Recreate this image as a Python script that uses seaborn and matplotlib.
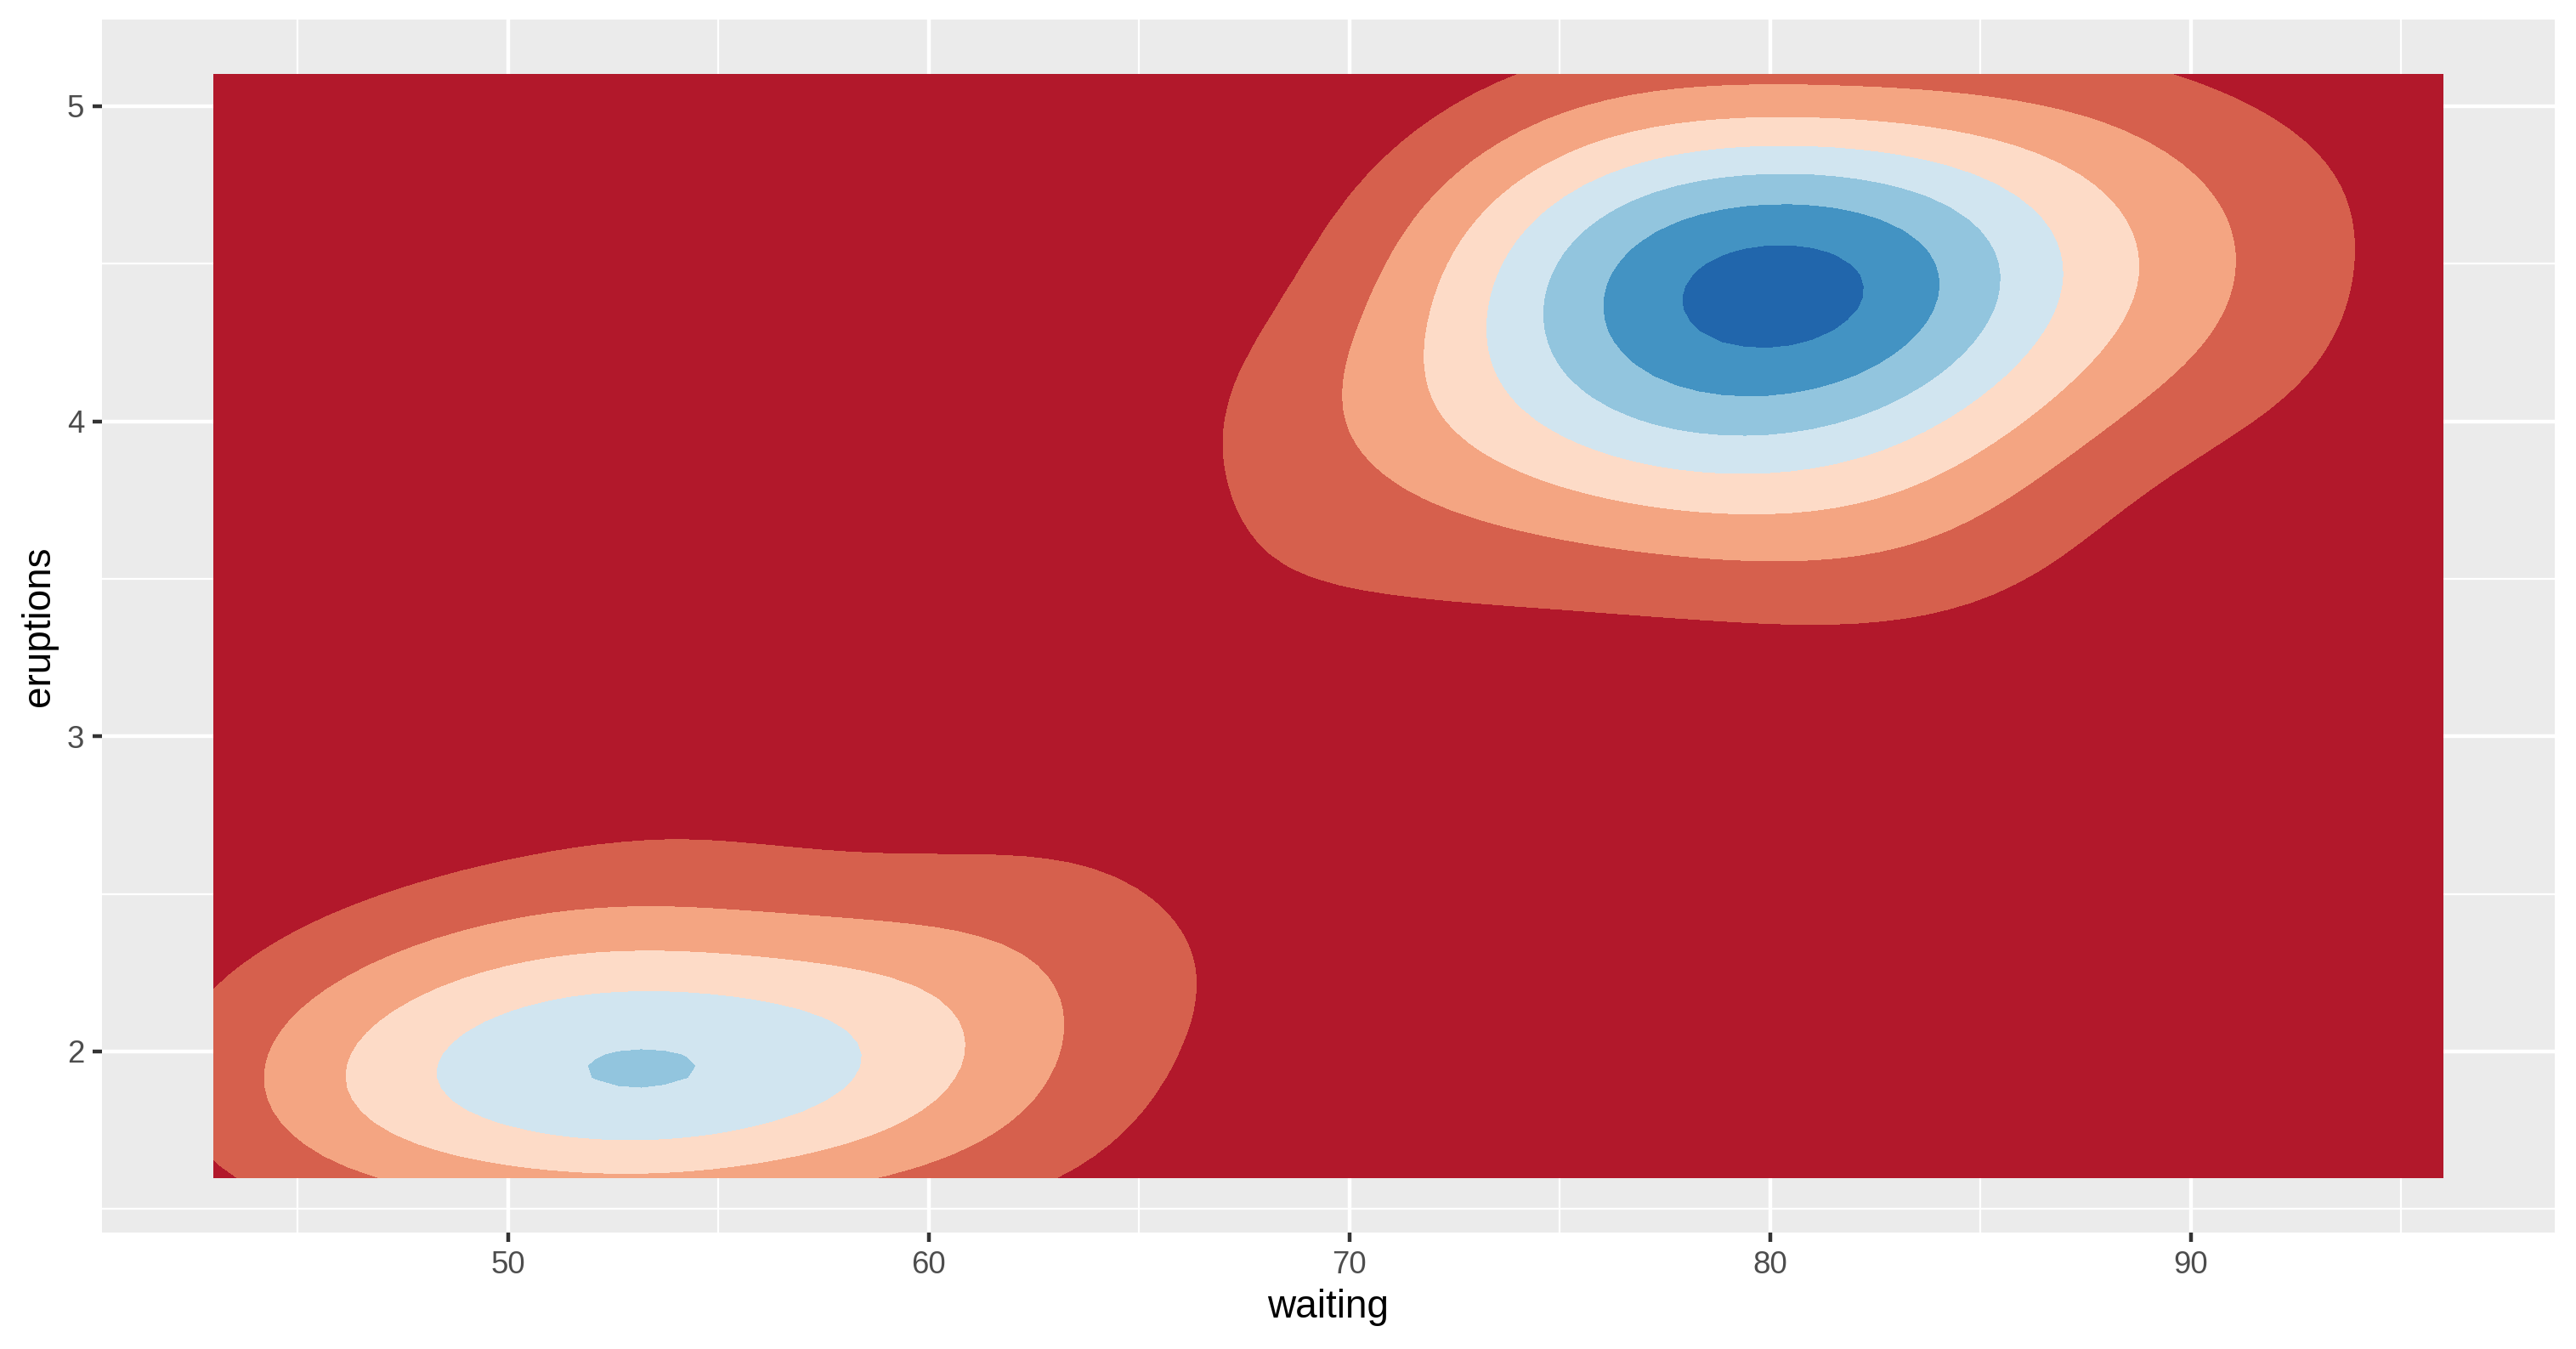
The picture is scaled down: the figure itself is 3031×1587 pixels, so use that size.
import numpy as np
import seaborn as sns
import matplotlib
matplotlib.use("Agg")
import matplotlib.pyplot as plt

# Old Faithful geyser data: eruption length (min) and waiting time (min)
eruptions = [
    3.600, 1.800, 3.333, 2.283, 4.533, 2.883, 4.700, 3.600, 1.950, 4.350,
    1.833, 3.917, 4.200, 1.750, 4.700, 2.167, 1.750, 4.800, 1.600, 4.250,
    1.800, 1.750, 3.450, 3.067, 4.533, 3.600, 1.967, 4.083, 3.850, 4.433,
    4.300, 4.467, 3.367, 4.033, 3.833, 2.017, 1.867, 4.833, 1.833, 4.783,
    4.350, 1.883, 4.567, 1.750, 4.533, 3.317, 3.833, 2.100, 4.633, 2.000,
    4.800, 4.716, 1.833, 4.833, 1.733, 4.883, 3.717, 1.667, 4.567, 4.317,
    2.233, 4.500, 1.750, 4.800, 1.817, 4.400, 4.167, 4.700, 2.067, 4.700,
    4.033, 1.967, 4.500, 4.000, 1.983, 5.067, 2.017, 4.567, 3.883, 3.600,
    4.133, 4.333, 4.100, 2.633, 4.067, 4.933, 3.950, 4.517, 2.167, 4.000,
    2.200, 4.333, 1.867, 4.817, 1.833, 4.300, 4.667, 3.750, 1.867, 4.900,
    2.483, 4.367, 2.100, 4.500, 4.050, 1.867, 4.700, 1.783, 4.850, 3.683,
    4.733, 2.300, 4.900, 4.417, 1.700, 4.633, 2.317, 4.600, 1.817, 4.417,
    2.617, 4.067, 4.250, 1.967, 4.600, 3.767, 1.917, 4.500, 2.267, 4.650,
    1.867, 4.167, 2.800, 4.333, 1.833, 4.383, 1.883, 4.933, 2.033, 3.733,
    4.233, 2.233, 4.533, 4.817, 4.333, 1.983, 4.633, 2.017, 5.100, 1.800,
    5.033, 4.000, 2.400, 4.600, 3.567, 4.000, 4.500, 4.083, 1.800, 3.967,
    2.200, 4.150, 2.000, 3.833, 3.500, 4.583, 2.367, 5.000, 1.933, 4.617,
    1.917, 2.083, 4.583, 3.333, 4.167, 4.333, 4.500, 2.417, 4.000, 4.167,
    1.883, 4.583, 4.250, 3.767, 2.033, 4.433, 4.083, 1.833, 4.417, 2.183,
    4.800, 1.833, 4.800, 4.100, 3.966, 4.233, 3.500, 4.366, 2.250, 4.667,
    2.100, 4.350, 4.133, 1.867, 4.600, 1.783, 4.367, 3.850, 1.933, 4.500,
    2.383, 4.700, 1.867, 3.833, 3.417, 4.233, 2.400, 4.800, 2.000, 4.150,
    1.867, 4.267, 1.750, 4.483, 4.000, 4.117, 4.083, 4.267, 3.917, 4.550,
    4.083, 2.417, 4.183, 2.217, 4.450, 1.883, 1.850, 4.283, 3.950, 2.333,
    4.150, 2.350, 4.933, 2.900, 4.583, 3.833, 2.083, 4.367, 2.133, 4.350,
    2.200, 4.450, 3.567, 4.500, 4.150, 3.817, 3.917, 4.450, 2.000, 4.283,
    4.767, 4.533, 1.850, 4.250, 1.983, 2.250, 4.750, 4.117, 2.150, 4.417,
    1.817, 4.467,
]
waiting = [
    79, 54, 74, 62, 85, 55, 88, 85, 51, 85, 54, 84, 78, 47, 83, 52, 62, 84,
    52, 79, 51, 47, 78, 69, 74, 83, 55, 76, 78, 79, 73, 77, 66, 80, 74, 52,
    48, 80, 59, 90, 80, 58, 84, 58, 73, 83, 64, 53, 82, 59, 75, 90, 54, 80,
    54, 83, 71, 64, 77, 81, 59, 84, 48, 82, 60, 92, 78, 78, 65, 73, 82, 56,
    79, 71, 62, 76, 60, 78, 76, 83, 75, 82, 70, 65, 73, 88, 76, 80, 48, 86,
    60, 90, 50, 78, 63, 72, 84, 75, 51, 82, 62, 88, 49, 83, 81, 47, 84, 52,
    86, 81, 75, 59, 89, 79, 59, 81, 50, 85, 59, 87, 53, 69, 77, 56, 88, 81,
    45, 82, 55, 90, 45, 83, 56, 89, 46, 82, 51, 86, 53, 79, 81, 60, 82, 77,
    76, 59, 80, 49, 96, 53, 77, 77, 65, 81, 71, 70, 81, 93, 53, 89, 45, 86,
    58, 78, 66, 76, 63, 88, 52, 93, 49, 57, 77, 68, 81, 81, 73, 50, 85, 74,
    55, 77, 83, 83, 51, 78, 84, 46, 83, 55, 81, 57, 76, 84, 77, 81, 87, 77,
    51, 78, 60, 82, 91, 53, 78, 46, 77, 84, 49, 83, 71, 80, 49, 75, 64, 76,
    53, 94, 55, 76, 50, 82, 54, 75, 78, 79, 78, 78, 70, 79, 70, 54, 86, 50,
    90, 54, 54, 77, 79, 64, 75, 47, 86, 63, 85, 82, 57, 82, 67, 74, 54, 83,
    73, 73, 88, 80, 71, 83, 56, 79, 78, 84, 58, 83, 43, 60, 75, 81, 46, 90,
    46, 74,
]

# RdBu (8 classes), low density -> red, high density -> blue
fill_colors = ["#B2182B", "#D6604D", "#F4A582", "#FDDBC7",
               "#D1E5F0", "#92C5DE", "#4393C3", "#2166AC"]
n_bins = 8
bw_adjust = 0.7

x_ticks = [50, 60, 70, 80, 90]
y_ticks = [2, 3, 4, 5]

x = np.array(waiting, dtype=float)
y = np.array(eruptions, dtype=float)


def bw_nrd(v):
    q25, q75 = np.percentile(v, [25, 75])
    return 4 * 1.06 * min(np.std(v, ddof=1), (q75 - q25) / 1.34) * len(v) ** (-0.2)


# 2d kernel density on a 100x100 grid over the data range (like MASS::kde2d)
hx, hy = bw_adjust * bw_nrd(x) / 4, bw_adjust * bw_nrd(y) / 4
gx = np.linspace(x.min(), x.max(), 100)
gy = np.linspace(y.min(), y.max(), 100)
kx = np.exp(-0.5 * ((gx[:, None] - x[None, :]) / hx) ** 2) / np.sqrt(2 * np.pi)
ky = np.exp(-0.5 * ((gy[:, None] - y[None, :]) / hy) ** 2) / np.sqrt(2 * np.pi)
dens = (ky @ kx.T) / (len(x) * hx * hy)

# contour breaks the way ggplot2 does it for a given number of bins
zr = [dens.min(), dens.max()]
acc = float(f"{zr[1] - zr[0]:.0e}") / 10
lo, hi = np.floor(zr[0] / acc) * acc, np.ceil(zr[1] / acc) * acc
breaks = np.arange(lo, hi + 1e-12, (hi - lo) / (n_bins - 1))
if len(breaks) < n_bins + 1:
    breaks = np.linspace(lo, hi, n_bins + 1)

sns.set_theme(style="darkgrid", rc={
    "axes.facecolor": "#EBEBEB",
    "grid.color": "white",
    "axes.edgecolor": "#EBEBEB",
})
plt.rcParams["font.family"] = ["Liberation Sans", "DejaVu Sans"]

fig = plt.figure(figsize=(3031 / 300, 1587 / 300), dpi=300)
ax = fig.add_axes([120 / 3031, 1 - 1450 / 1587, (3006 - 120) / 3031, (1450 - 23) / 1587])

ax.contourf(gx, gy, dens, levels=breaks, colors=fill_colors[:len(breaks) - 1],
            antialiased=False, zorder=2)

ax.set_xlim(40.35, 98.65)
ax.set_ylim(1.425, 5.275)
ax.set_xticks(x_ticks)
ax.set_yticks(y_ticks)
ax.set_xticks([45, 55, 65, 75, 85, 95], minor=True)
ax.set_yticks([1.5, 2.5, 3.5, 4.5], minor=True)
ax.grid(which="major", color="white", linewidth=1.07, zorder=0)
ax.grid(which="minor", color="white", linewidth=0.53, zorder=0)
ax.set_axisbelow(True)
for s in ax.spines.values():
    s.set_visible(False)

ax.tick_params(which="major", length=2.75, width=1.07, color="#333333",
               labelsize=8.8, labelcolor="#4D4D4D", pad=2.2,
               bottom=True, left=True)
ax.tick_params(which="minor", length=0)
ax.set_xlabel("waiting", fontsize=11, color="black", labelpad=2.5)
ax.set_ylabel("eruptions", fontsize=11, color="black", labelpad=2.5)

fig.savefig("out.png", dpi=300)
